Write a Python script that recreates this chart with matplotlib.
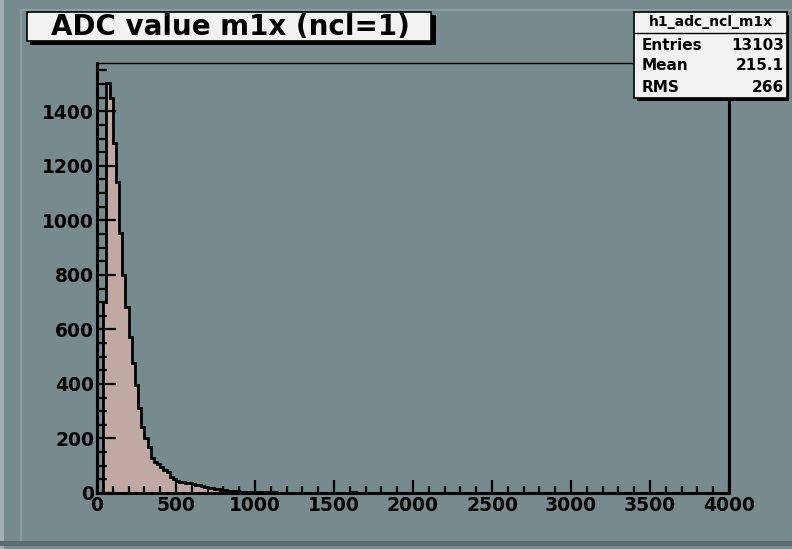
import numpy as np
import matplotlib
matplotlib.use("Agg")
import matplotlib.pyplot as plt
from matplotlib.patches import Rectangle
from matplotlib.ticker import MultipleLocator

# ---------------- data ----------------
bin_width = 20
x_min, x_max = 0, 4000
# counts per 20-unit bin (bins 0-20, 20-40, ...)
counts_head = [0, 0, 700, 1502, 1448, 1282, 1139, 952, 798, 682,
               572, 476, 396, 311, 243, 200, 170, 128, 115, 105,
               96, 85, 78, 60, 51, 45, 42, 40, 38, 36,
               33, 30, 28, 25, 22, 19, 17, 15, 13, 11,
               10, 9, 8, 7, 6, 5, 5, 4, 4, 3,
               3, 3, 2, 2, 2, 2, 2, 1, 1, 1]
counts_tail = [1, 1, 1, 1, 0, 1, 0, 1, 0, 0,
               1, 0, 0, 0, 0, 0, 0, 0, 0, 0,
               3, 3, 1, 0, 0, 0, 0, 0, 0, 0,
               0, 0, 0, 0, 0, 0, 0, 0, 0, 0,
               0, 0, 0, 0, 0, 0, 0, 0, 0, 0,
               0, 0, 0, 0, 0, 0, 0, 0, 0, 0,
               0, 0, 0, 0, 0, 0, 0, 0, 0, 0,
               0, 0, 0, 0, 0, 0, 0, 0, 0, 0,
               0, 0, 0, 0, 0, 0, 0, 0, 0, 0,
               0, 0, 0, 0, 0, 0, 0, 0, 0, 0,
               0, 0, 0, 0, 0, 0, 0, 0, 0, 0,
               0, 0, 0, 0, 0, 0, 0, 0, 0, 0,
               0, 0, 0, 0, 0, 0, 0, 0, 0, 0,
               0, 0, 0, 0, 0, 0, 0, 0, 0, 0]
title = "ADC value m1x (ncl=1)"
hist_name = "h1_adc_ncl_m1x"
stat_labels = ["Entries", "Mean", "RMS"]
stat_values = ["13103", "215.1", "266"]
x_ticks = [0, 500, 1000, 1500, 2000, 2500, 3000, 3500, 4000]
y_ticks = [0, 200, 400, 600, 800, 1000, 1200, 1400]

counts = np.array(counts_head + counts_tail, dtype=float)
edges = np.arange(x_min, x_max + bin_width, bin_width)[: len(counts) + 1]

# ---------------- style ----------------
W, H = 792, 549
BG = "#778a8e"
FILL = "#bfa9a2"
FONT = ["DejaVu Sans"]
plt.rcParams["font.family"] = FONT
plt.rcParams["font.weight"] = "bold"

fig = plt.figure(figsize=(W / 100, H / 100), dpi=100, facecolor=BG)

def px(x0, y0, x1, y1):
    return [x0 / W, 1 - y1 / H, (x1 - x0) / W, (y1 - y0) / H]

# canvas borders (bevel)
over = fig.add_axes([0, 0, 1, 1], zorder=-5)
over.set_xlim(0, W); over.set_ylim(H, 0); over.axis("off")
over.add_patch(Rectangle((0, 0), 4, H, color="#a4b1b4", lw=0))
over.add_patch(Rectangle((0, 541), W, 5, color="#5b6b6f", lw=0))
over.add_patch(Rectangle((20, 9), W - 20, 2, color="#8a9ca0", lw=0))
over.add_patch(Rectangle((20, 9), 2, 532, color="#8a9ca0", lw=0))

ax = fig.add_axes(px(97, 63, 729, 493), facecolor=BG)
ax.stairs(counts, edges, fill=True, color=FILL, lw=0, zorder=1)
ax.stairs(counts, edges, color="black", lw=2.0, zorder=2)
ax.set_xlim(x_min, x_max)
ax.set_ylim(0, 1.05 * counts.max())

ax.set_xticks(x_ticks)
ax.set_yticks(y_ticks)
ax.xaxis.set_minor_locator(MultipleLocator(100))
ax.yaxis.set_minor_locator(MultipleLocator(50))
ax.tick_params(axis="x", which="major", direction="in", length=9.5, width=1.6,
               labelsize=13.5, pad=2.5, top=False)
ax.tick_params(axis="x", which="minor", direction="in", length=5, width=1.6, top=False)
ax.tick_params(axis="y", which="major", direction="in", length=14, width=1.6,
               labelsize=13.5, pad=2, right=False)
ax.tick_params(axis="y", which="minor", direction="in", length=7.5, width=1.6, right=False)
for lab in ax.get_xticklabels() + ax.get_yticklabels():
    lab.set_fontweight("bold")
ax.spines["left"].set_linewidth(2.2)
ax.spines["bottom"].set_linewidth(2.2)
ax.spines["right"].set_linewidth(2.2)
ax.spines["top"].set_linewidth(1.0)
for s in ax.spines.values():
    s.set_zorder(5)

# overlay for boxes
top = fig.add_axes([0, 0, 1, 1], zorder=10)
top.set_xlim(0, W); top.set_ylim(H, 0); top.axis("off")

# title box with shadow
top.add_patch(Rectangle((30, 15), 406, 30, color="black", lw=0))
top.add_patch(Rectangle((27, 12), 404, 29, facecolor="#f2f2f2", edgecolor="black", lw=1.2))
top.text(230, 35.5, title, ha="center", va="baseline", fontsize=20,
         fontweight="bold", family=FONT)

# stats box with shadow
top.add_patch(Rectangle((637, 15), 152, 86, color="black", lw=0))
top.add_patch(Rectangle((634, 12), 153, 86, facecolor="#f2f2f2", edgecolor="black", lw=1.2))
top.plot([634, 787], [32.5, 32.5], color="black", lw=1.0)
top.text(710.5, 26, hist_name, ha="center", va="baseline", fontsize=10,
         fontweight="bold", family=FONT)
baselines = [50, 70, 91.5]
for lab, val, yy in zip(stat_labels, stat_values, baselines):
    top.text(642, yy, lab, ha="left", va="baseline", fontsize=11,
             fontweight="bold", family=FONT)
    top.text(784, yy, val, ha="right", va="baseline", fontsize=11,
             fontweight="bold", family=FONT)

fig.savefig("out.png", dpi=100, facecolor=BG)
